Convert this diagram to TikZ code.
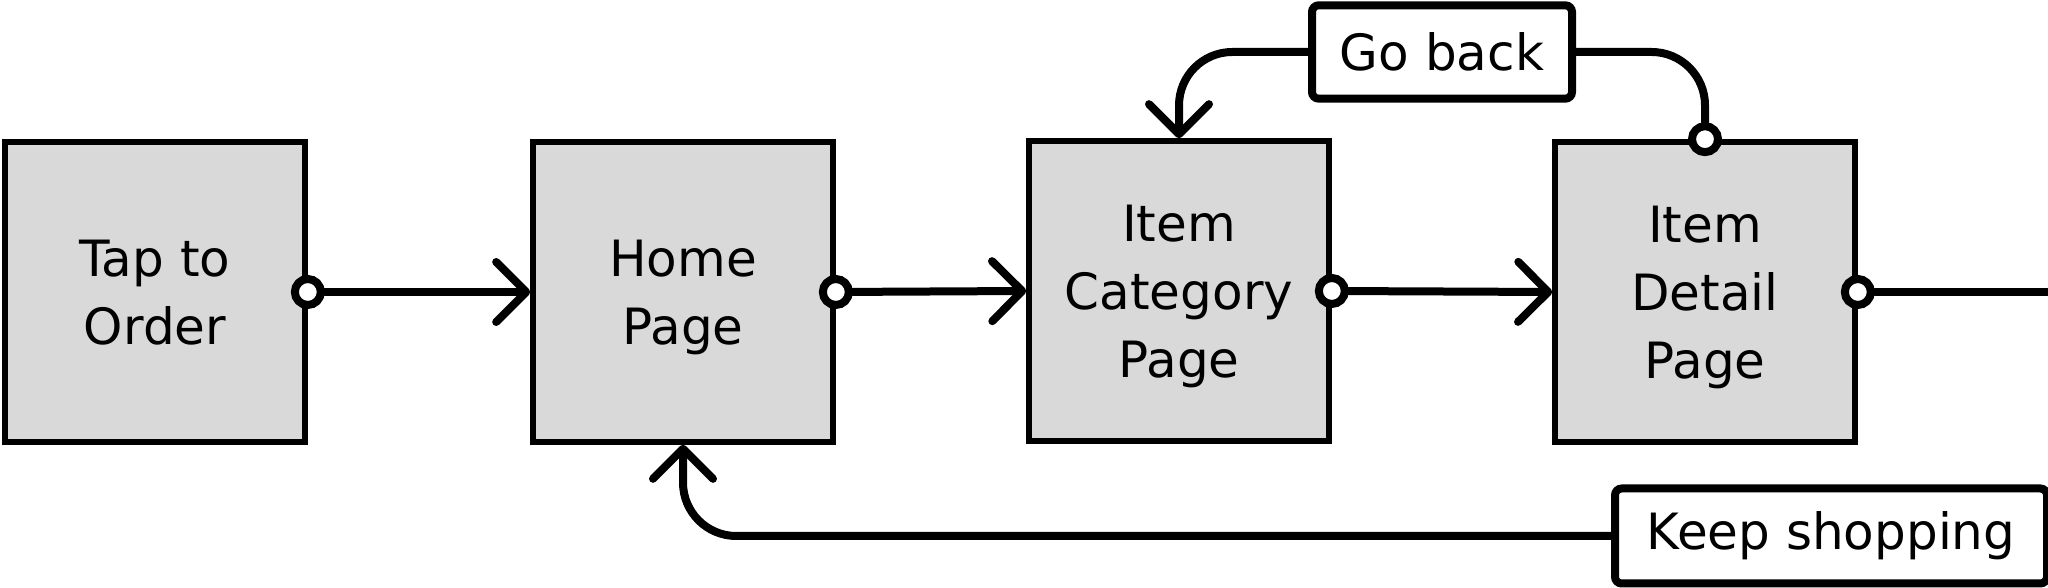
\documentclass[tikz,border=0pt]{standalone}
\usepackage{fontspec}
\setmainfont{DejaVu Sans}
\usetikzlibrary{arrows.meta}
\definecolor{boxgray}{HTML}{D9D9D9}
\begin{document}
\begin{tikzpicture}[x=0.3pt,y=-0.3pt,
  page/.style={draw=black, line width=1.7pt, fill=boxgray, minimum width=90pt, minimum height=90pt, inner sep=0pt, align=center, text depth=0pt, font=\fontsize{15}{20.4}\selectfont},
  tag/.style={draw=black, line width=2.4pt, fill=white, rounded corners=2pt, minimum height=28pt, inner sep=0pt, font=\fontsize{15}{18}\selectfont},
  dot/.style={circle, draw=black, line width=2.4pt, fill=white, minimum size=7.8pt, inner sep=0pt},
  conn/.style={line width=2.4pt, line cap=round, line join=round},
  barb/.style={-{Straight Barb[length=9pt,width=18pt,round]}},
]
\useasboundingbox (0,0) rectangle (2048,588);
\node[page] (b1) at (155,292) {Tap to\\Order};
\node[page] (b2) at (683,292) {Home\\Page};
\node[page] (b3) at (1179,291) {Item\\Category\\Page};
\node[page] (b4) at (1705,292) {Item\\Detail\\Page};
\node[tag, minimum width=78pt] (gb) at (1442,52) {Go back};
\node[tag, minimum width=129.6pt, minimum height=28.5pt] (ks) at (1831,536) {Keep shopping};
\node[dot] (d1) at (b1.east) {};
\node[dot] (d2) at (b2.east) {};
\node[dot] (d3) at (b3.east) {};
\node[dot] (d4) at (b4.north) {};
\node[dot] (d5) at (b4.east) {};
\coordinate (exit) at (2070,292);
\draw[conn, barb] (d1) -- (b2.west);
\draw[conn, barb] (d2) -- (b3.west);
\draw[conn, barb] (d3) -- (b4.west);
\draw[conn] (d5) -- (exit);
\draw[conn, rounded corners=16pt] (d4) |- (gb.east);
\draw[conn, barb, rounded corners=16pt] (gb.west) -| (b3.north);
\draw[conn, barb, rounded corners=16pt] (ks.west) -| (b2.south);
\end{tikzpicture}
\end{document}
